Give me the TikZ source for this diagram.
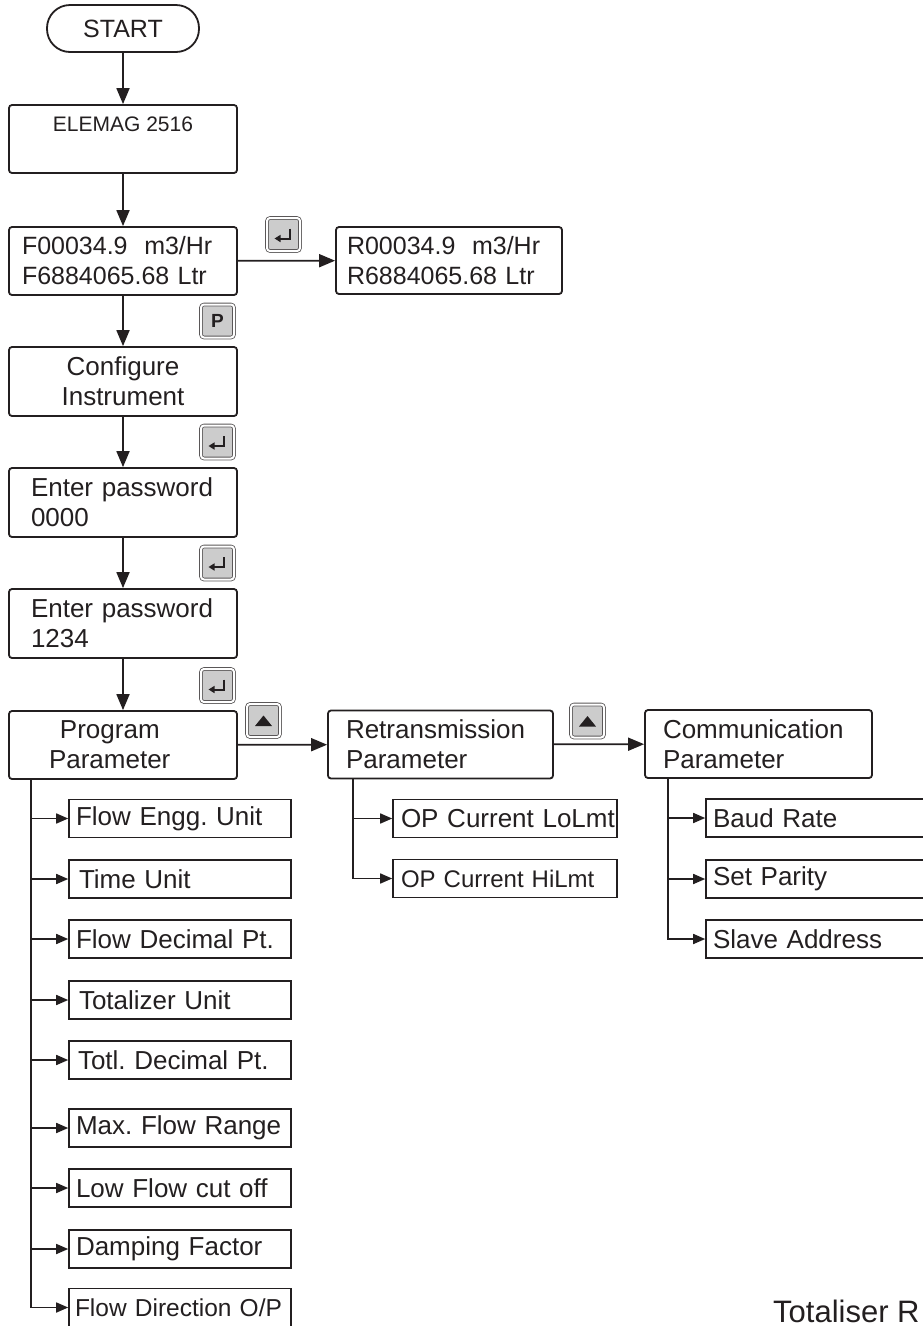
\documentclass[tikz,border=0pt]{standalone}
\usepackage{fontspec}
\setmainfont{Liberation Sans}
\usepackage{xcolor}
\usetikzlibrary{arrows.meta,positioning}
\frenchspacing

\definecolor{ink}{HTML}{231F20}
\definecolor{keygray}{HTML}{CCCCCC}

\begin{document}
\begin{tikzpicture}[x=1pt, y=-1pt,
    terminal/.style={rectangle, rounded corners=23pt, draw=ink, line width=1.8pt,
                     minimum width=152pt, minimum height=47pt, text=ink,
                     font=\fontsize{25}{30}\selectfont},
    box/.style={rectangle, rounded corners=3pt, draw=ink, line width=1.8pt,
                minimum width=228pt, minimum height=68pt, text=ink,
                font=\fontsize{26}{30}\selectfont},
    subbox/.style={rectangle, draw=ink, line width=1.6pt, minimum height=38pt,
                   inner ysep=0pt, align=left, inner xsep=7pt, text width=208pt,
                   text=ink, font=\fontsize{26}{30}\selectfont},
    keybox/.style={rectangle, rounded corners=3pt, draw=ink!75, line width=0.8pt,
                   double=white, double distance=2pt, fill=keygray,
                   minimum width=33pt, minimum height=33pt, inner sep=0pt, text=ink},
    enterglyph/.style={-{Triangle[length=6pt,width=7pt]}, line width=2pt, draw=ink},
    arrow/.style={-{Triangle[length=16pt,width=13pt]}, line width=1.8pt, draw=ink},
    subarrow/.style={-{Triangle[length=12pt,width=10pt]}, line width=1.6pt, draw=ink}
]
    \useasboundingbox (0,0) rectangle (922,1326);

    % main column
    \node[terminal] (start) at (123,28.5) {START};
    \node[box, font=\fontsize{21}{25}\selectfont, text height=18pt, text depth=34pt]
        (elemag) at (123,139) {ELEMAG 2516};
    \node[box, align=left, inner xsep=13pt, text width=202pt, font=\fontsize{25}{30}\selectfont]
        (flow) at (123,261) {F00034.9\ \ m3/Hr\\F6884065.68 Ltr};
    \node[box, minimum width=226pt, minimum height=67pt, align=left, inner xsep=11pt,
          text width=204pt, font=\fontsize{25}{30}\selectfont]
        (rflow) at (449,260.5) {R00034.9\ \ m3/Hr\\R6884065.68 Ltr};
    \node[box, align=center, minimum height=69pt] (config) at (123,381.5) {Configure\\Instrument};
    \node[box, align=left, inner xsep=22pt, text width=184pt, minimum height=69pt]
        (pw0) at (123,502.5) {Enter password\\0000};
    \node[box, align=left, inner xsep=22pt, text width=184pt, minimum height=69pt]
        (pw1) at (123,623.5) {Enter password\\1234};
    \node[box, align=left, inner xsep=4pt, text width=220pt]
        (prog) at (123,745) {\hspace*{47pt}Program\\\hspace*{36pt}Parameter};
    \node[box, minimum width=225pt, align=left, inner xsep=18pt, text width=189pt]
        (retx) at (440.5,744.5) {Retransmission\\Parameter};
    \node[box, minimum width=227pt, align=left, inner xsep=18pt, text width=191pt]
        (comm) at (758.5,744) {Communication\\Parameter};

    % keys
    \node[keybox] (kenter1) at (283.5,234.5) {};
    \node[keybox] (kp)      at (217.5,321)   {\bfseries\fontsize{19}{19}\selectfont P};
    \node[keybox] (kenter2) at (217.5,442)   {};
    \node[keybox] (kenter3) at (217.5,563)   {};
    \node[keybox] (kenter4) at (217.5,685.5) {};
    \node[keybox] (kup1)    at (263.5,720.5) {};
    \node[keybox] (kup2)    at (587.5,721)   {};
    \foreach \k in {kenter1,kenter2,kenter3,kenter4}
        \draw[enterglyph, shift={(\k.center)}] (6,-6) -- (6,4) -- (-9,4);
    \foreach \k in {kup1,kup2}
        \fill[ink, shift={(\k.center)}] (-8.5,5.5) -- (8.5,5.5) -- (0,-5) -- cycle;

    \draw[arrow] (start)  -- (elemag);
    \draw[arrow] (elemag) -- (flow);
    \draw[arrow] (flow)   -- (rflow);
    \draw[arrow] (flow)   -- (config);
    \draw[arrow] (config) -- (pw0);
    \draw[arrow] (pw0)    -- (pw1);
    \draw[arrow] (pw1)    -- (prog);
    \draw[arrow] (prog)   -- (retx);
    \draw[arrow] (retx)   -- (comm);

    % program parameter items
    \node[subbox] (p1) at (180,818.5) {Flow Engg. Unit};
    \node[subbox] (p2) at (180,879)   {\hspace*{3pt}Time Unit};
    \node[subbox] (p3) at (180,939)   {Flow Decimal Pt.};
    \node[subbox] (p4) at (180,1000)  {\hspace*{3pt}Totalizer Unit};
    \node[subbox] (p5) at (180,1060)  {\hspace*{2pt}Totl. Decimal Pt.};
    \node[subbox] (p6) at (180,1128)  {Max. Flow Range};
    \node[subbox] (p7) at (180,1188)  {Low Flow cut off};
    \node[subbox] (p8) at (180,1249)  {Damping Factor};
    \node[subbox, inner xsep=4pt, text width=214pt, font=\fontsize{24.5}{28}\selectfont]
        (p9) at (180,1307.5) {\hspace*{2pt}Flow Direction O/P};
    \foreach \n in {p1,p2,p3,p4,p5,p6,p7,p8,p9}
        \draw[subarrow] ([xshift=23pt]prog.south west) |- (\n.west);

    % retransmission items
    \node[subbox, inner xsep=1pt, text width=222pt] (r1) at (505,818.5) {\hspace*{7pt}OP Current LoLmt};
    \node[subbox, inner xsep=1pt, text width=222pt, font=\fontsize{24}{28}\selectfont]
        (r2) at (505,878.5) {\hspace*{7pt}OP Current HiLmt};
    \foreach \n in {r1,r2}
        \draw[subarrow] ([xshift=26pt]retx.south west) |- (\n.west);

    % communication items
    \node[subbox, minimum width=232pt, text width=218pt] (c1) at (822,818)   {Baud Rate};
    \node[subbox, minimum width=232pt, text width=218pt] (c2) at (822,879)   {Set Parity};
    \node[subbox, minimum width=232pt, text width=218pt] (c3) at (822,939)   {Slave Address};
    \foreach \n in {c1,c2,c3}
        \draw[subarrow] ([xshift=24pt]comm.south west) |- (\n.west);

    \node[anchor=base west, inner sep=0pt, text=ink, font=\fontsize{31}{36}\selectfont]
        (totr) at (773,1322) {Totaliser R};
\end{tikzpicture}
\end{document}
